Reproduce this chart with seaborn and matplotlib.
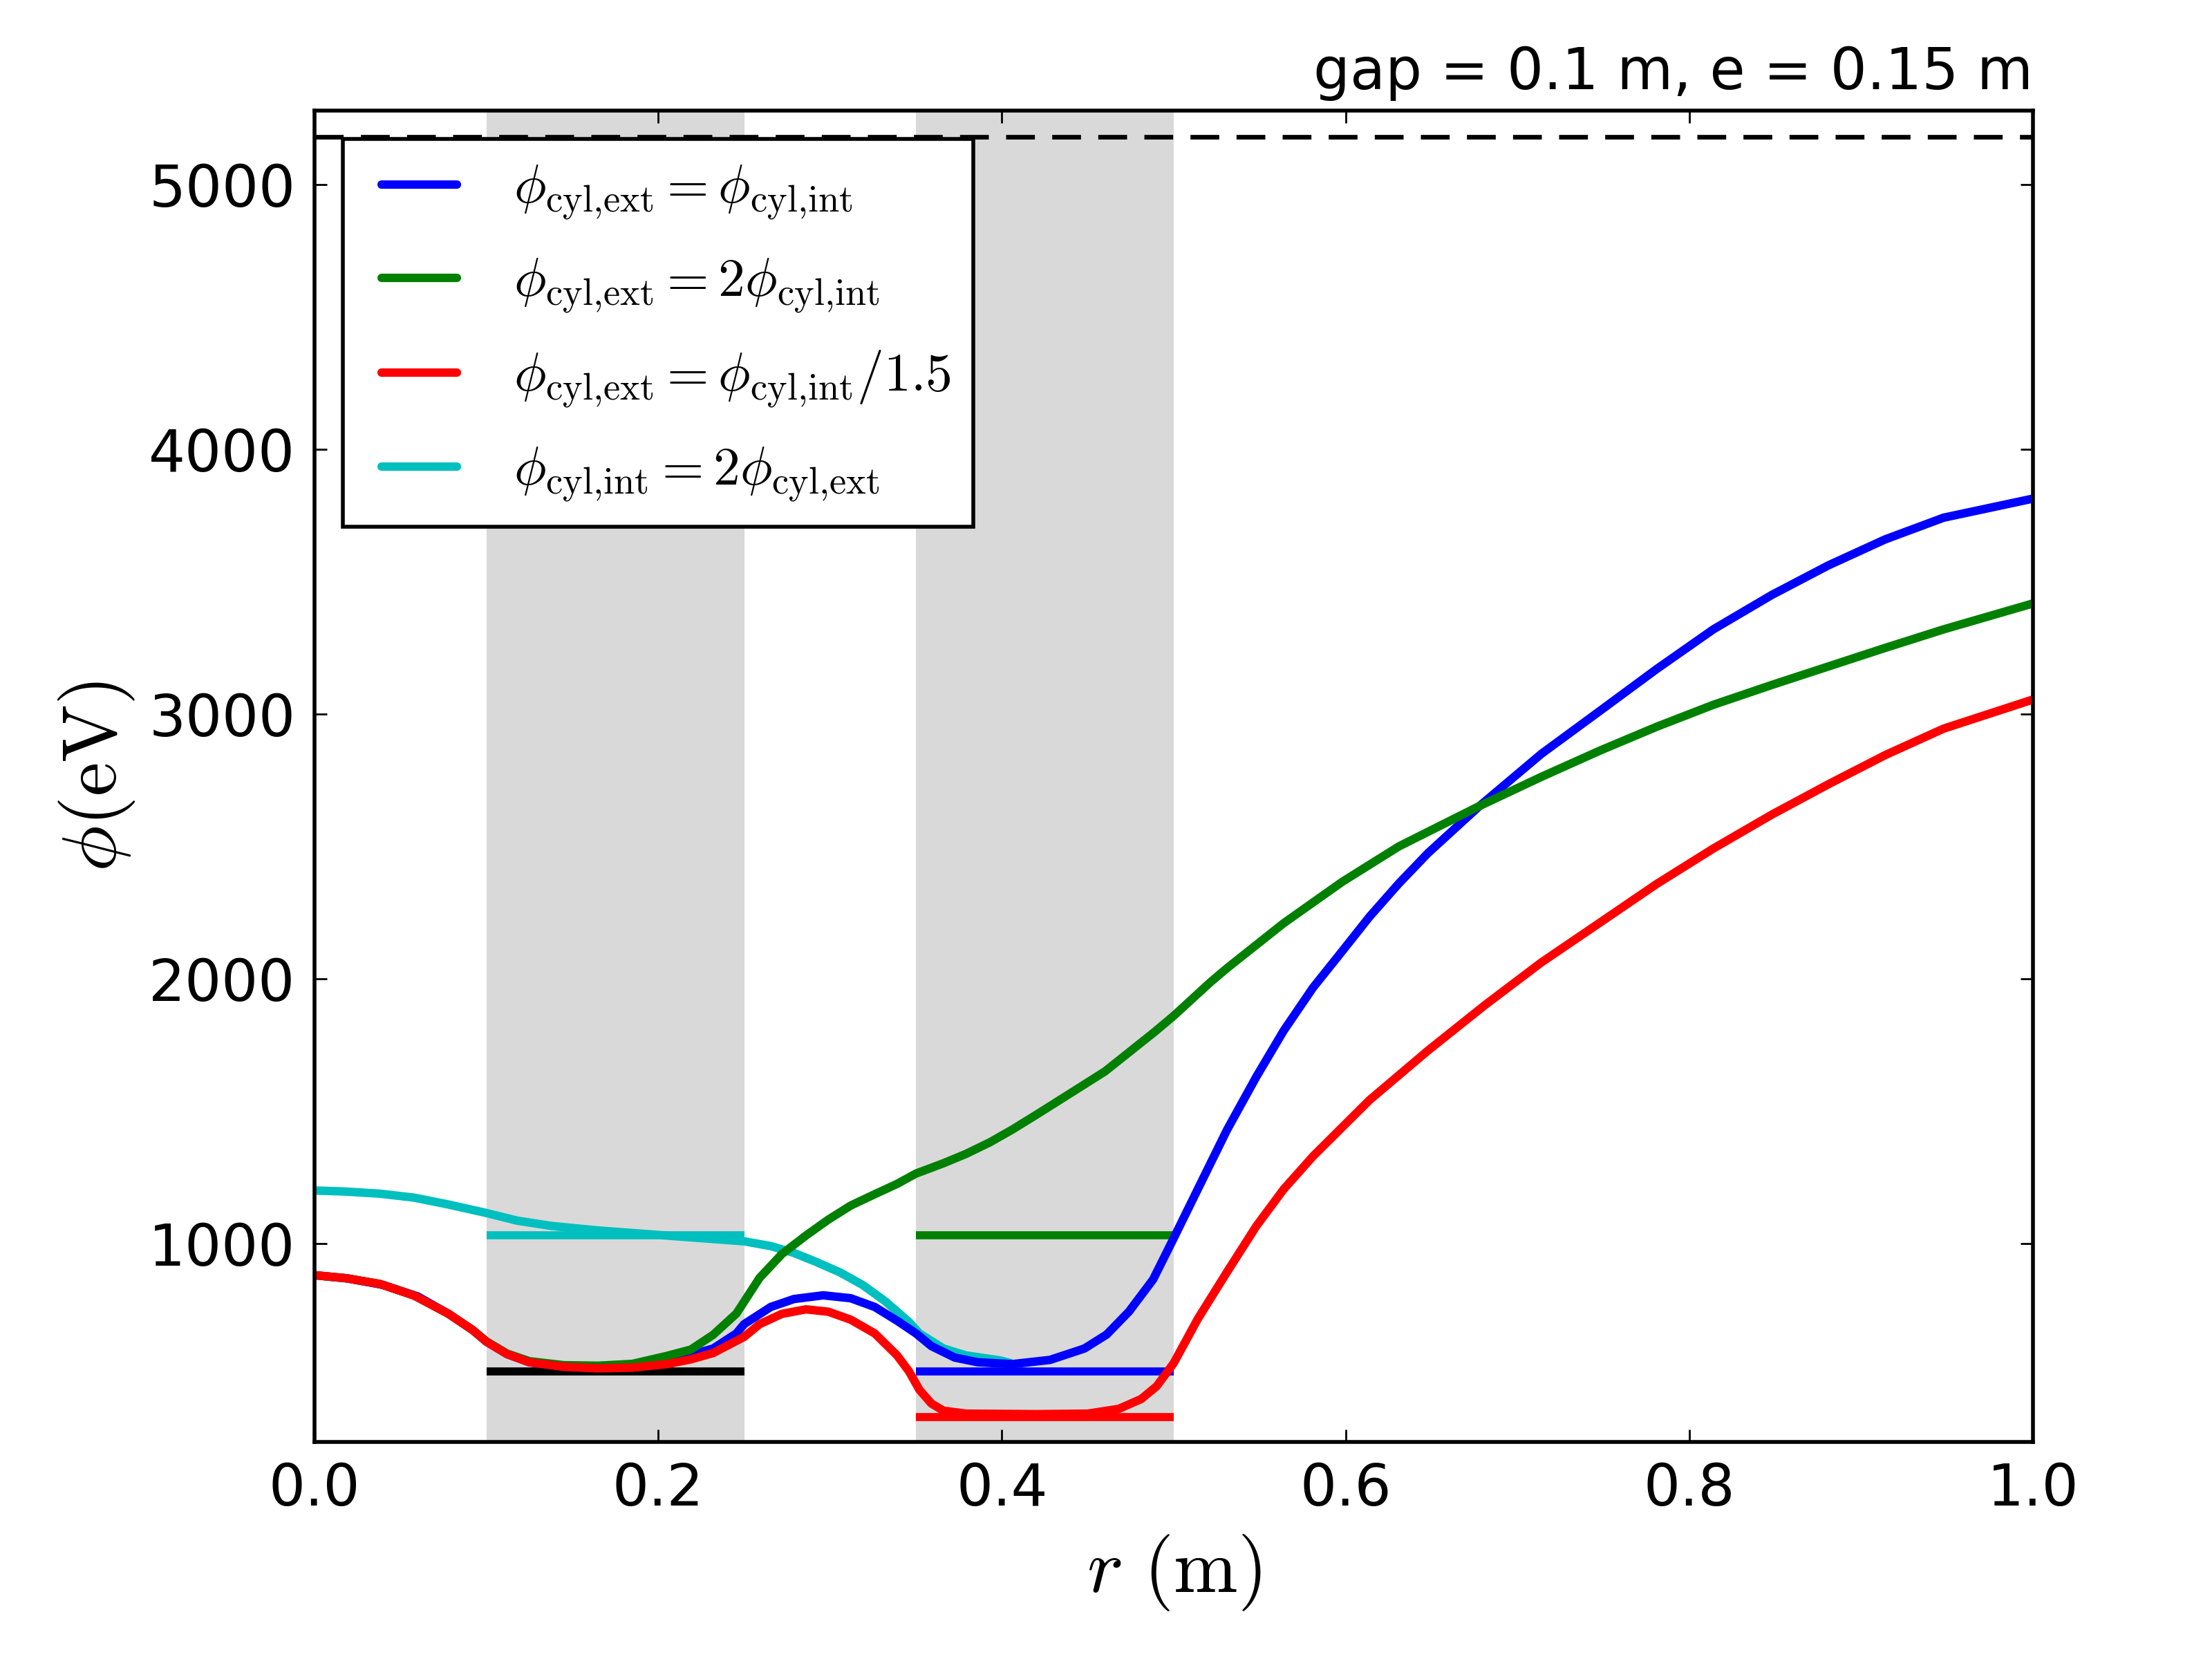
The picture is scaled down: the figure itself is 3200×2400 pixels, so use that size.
import numpy as np
import pandas as pd
import matplotlib
matplotlib.use("Agg")
import matplotlib.pyplot as plt
import seaborn as sns

# ---------------- data ----------------
blue_x = [0.000, 0.020, 0.040, 0.060, 0.078, 0.092, 0.100, 0.112, 0.125, 0.145,
          0.165, 0.185, 0.205, 0.219, 0.232, 0.2455, 0.250, 0.2655, 0.279, 0.296,
          0.312, 0.326, 0.339, 0.350, 0.359, 0.3725, 0.386, 0.406, 0.428, 0.448,
          0.461, 0.474, 0.488, 0.500, 0.514, 0.531, 0.548, 0.564, 0.581, 0.598,
          0.614, 0.631, 0.648, 0.678, 0.714, 0.748, 0.781, 0.814, 0.848, 0.881,
          0.914, 0.948, 1.000]
blue_y = [880, 867, 843, 800, 734, 673, 629, 582, 551, 534,
          529, 533, 548, 579, 603, 660, 695, 760, 790, 804,
          793, 760, 708, 660, 612, 569, 551, 544, 560, 603,
          656, 743, 864, 1020, 1205, 1429, 1629, 1804, 1966, 2104,
          2235, 2360, 2475, 2653, 2850, 3012, 3170, 3320, 3450, 3562,
          3660, 3742, 3814]

green_x = [0.000, 0.018, 0.038, 0.058, 0.078, 0.092, 0.100, 0.112, 0.125, 0.145,
           0.165, 0.185, 0.205, 0.219, 0.232, 0.2455, 0.259, 0.272, 0.286, 0.299,
           0.312, 0.326, 0.339, 0.350, 0.366, 0.379, 0.393, 0.406, 0.419, 0.431,
           0.460, 0.489, 0.500, 0.521, 0.531, 0.564, 0.598, 0.631, 0.678, 0.714,
           0.748, 0.781, 0.814, 0.848, 0.881, 0.914, 0.948, 1.000]
green_y = [880, 869, 847, 803, 734, 673, 630, 584, 555, 540,
           538, 545, 575, 599, 655, 735, 870, 960, 1030, 1090,
           1143, 1186, 1225, 1264, 1303, 1338, 1382, 1430, 1482, 1531,
           1650, 1800, 1860, 1985, 2040, 2210, 2366, 2500, 2653, 2763,
           2862, 2952, 3035, 3110, 3180, 3250, 3320, 3418]

red_x = [0.000, 0.018, 0.038, 0.058, 0.078, 0.092, 0.100, 0.112, 0.125, 0.145,
         0.165, 0.185, 0.205, 0.219, 0.232, 0.250, 0.259, 0.272, 0.286, 0.299,
         0.312, 0.326, 0.339, 0.346, 0.352, 0.359, 0.366, 0.379, 0.420, 0.450,
         0.468, 0.481, 0.490, 0.500, 0.514, 0.531, 0.548, 0.564, 0.581, 0.614,
         0.648, 0.681, 0.714, 0.748, 0.781, 0.814, 0.848, 0.881, 0.914, 0.948,
         1.000]
red_y = [880, 869, 847, 803, 734, 673, 629, 582, 551, 534,
         528, 531, 544, 562, 586, 647, 695, 734, 751, 742,
         712, 660, 577, 516, 447, 395, 368, 357, 355, 357,
         375, 412, 460, 548, 715, 892, 1065, 1205, 1329, 1542,
         1729, 1900, 2062, 2212, 2358, 2492, 2620, 2735, 2845, 2945,
         3055]

cyan_x = [0.000, 0.018, 0.038, 0.058, 0.078, 0.100, 0.118, 0.138, 0.165, 0.192,
          0.219, 0.250, 0.2655, 0.279, 0.292, 0.306, 0.319, 0.332, 0.346, 0.352,
          0.366, 0.379, 0.399, 0.405]
cyan_y = [1200, 1196, 1188, 1173, 1147, 1115, 1086, 1066, 1049, 1036,
          1023, 1008, 990, 964, 930, 890, 843, 782, 703, 660,
          603, 577, 558, 548]

labels = [r'$\phi_{\rm cyl{,}ext} = \phi_{\rm cyl{,}int}$',
          r'$\phi_{\rm cyl{,}ext} = 2\phi_{\rm cyl{,}int}$',
          r'$\phi_{\rm cyl{,}ext} = \phi_{\rm cyl{,}int}/1.5$',
          r'$\phi_{\rm cyl{,}int} = 2\phi_{\rm cyl{,}ext}$']

# electrode bands (m)
band_start = [0.10, 0.35]
band_end = [0.25, 0.50]

# horizontal reference levels
seg_y = [516, 1032, 1032, 516, 344]
seg_x0 = [0.10, 0.10, 0.35, 0.35, 0.35]
seg_x1 = [0.25, 0.25, 0.50, 0.50, 0.50]
seg_col = ['#000000', '#00bfbf', '#008000', '#0000ff', '#ff0000']

max_level = 5180
title_text = 'gap = 0.1 m, e = 0.15 m'

# ---------------- style ----------------
sns.set_style('ticks')
plt.rcParams['font.family'] = ['DejaVu Sans']
plt.rcParams['mathtext.fontset'] = 'cm'
plt.rcParams['lines.scale_dashes'] = False
for k in ['text.color', 'axes.labelcolor', 'xtick.color', 'ytick.color',
          'axes.edgecolor']:
    plt.rcParams[k] = 'black'

fig, ax = plt.subplots(figsize=(8, 6), dpi=400)
fig.subplots_adjust(left=455 / 3200, right=2941 / 3200,
                    bottom=1 - 2086 / 2400, top=1 - 160 / 2400)

for s, e in zip(band_start, band_end):
    ax.axvspan(s, e, color='#d9d9d9', lw=0, zorder=0.5)

ax.axhline(max_level, color='black', lw=1.2, dashes=(7.5, 4.5), zorder=1)

for y, x0, x1, c in zip(seg_y, seg_x0, seg_x1, seg_col):
    ax.hlines(y, x0, x1, colors=c, lw=2.1, zorder=1.2)

series = [
    (blue_x, blue_y, '#0000ff', labels[0], 2.1),
    (green_x, green_y, '#008000', labels[1], 2.2),
    (red_x, red_y, '#ff0000', labels[2], 2.3),
    (cyan_x, cyan_y, '#00bfbf', labels[3], 1.9),
]
handles = []
for xs, ys, c, lab, z in series:
    df = pd.DataFrame({'r': xs, 'phi': ys})
    sns.lineplot(data=df, x='r', y='phi', color=c, lw=2.2, sort=False,
                 estimator=None, ax=ax, zorder=z)
    ax.lines[-1].set_solid_joinstyle('round')
    handles.append(plt.Line2D([], [], color=c, lw=2.2, label=lab))

ax.set_xlim(0, 1)
ax.set_ylim(250, 5280)
ax.set_xticks([0.0, 0.2, 0.4, 0.6, 0.8, 1.0])
ax.set_yticks([1000, 2000, 3000, 4000, 5000])
ax.tick_params(direction='in', top=True, right=True, length=3.3, width=0.5,
               labelsize=15, pad=5, colors='black')
for sp in ax.spines.values():
    sp.set_linewidth(1.0)
    sp.set_color('black')
    sp.set_visible(True)

ax.set_xlabel(r'$r\ (\mathrm{m})$', fontsize=20, labelpad=4)
ax.set_ylabel(r'$\phi (\mathrm{eV})$', fontsize=20, labelpad=3)
ax.set_title(title_text, loc='right', fontsize=15, pad=5.5, color='black')

leg = ax.legend(handles=handles, loc='upper left', fontsize=14,
                numpoints=2, handlelength=2.0, handletextpad=0.75,
                labelspacing=0.63, borderpad=0.42, borderaxespad=0.53,
                fancybox=False, framealpha=1, edgecolor='black')
leg.get_frame().set_linewidth(1.0)

fig.savefig('out.png', dpi=400)
